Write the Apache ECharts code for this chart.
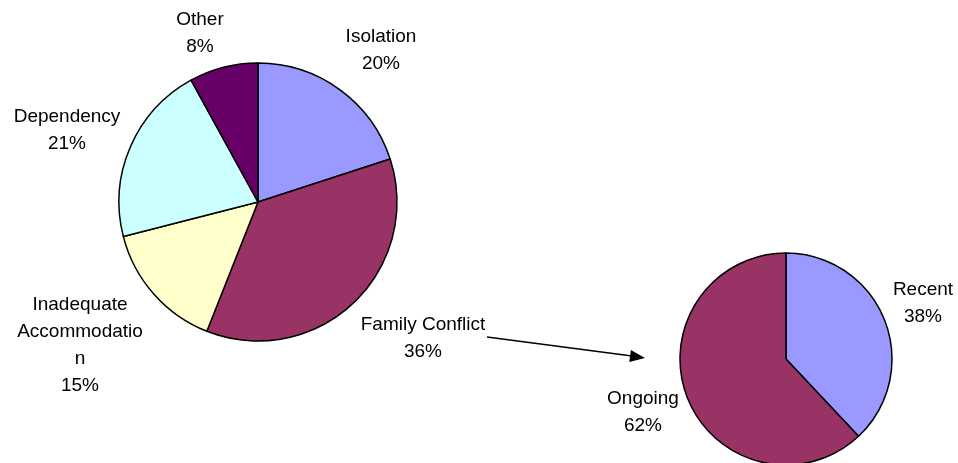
<!DOCTYPE html>
<html>
<head>
<meta charset="utf-8">
<script src="https://cdn.jsdelivr.net/npm/echarts@6/dist/echarts.min.js"></script>
<style>
  html, body { margin: 0; padding: 0; background: #fff; }
  #main { width: 958px; height: 463px; }
</style>
</head>
<body>
<div id="main"></div>
<script>
// main pie: reasons
const mainNames = ['Isolation', 'Family Conflict', 'Inadequate Accommodation', 'Dependency', 'Other'];
const mainValues = [20, 36, 15, 21, 8];
const mainColors = ['#9999FF', '#993366', '#FFFFCC', '#CCFFFF', '#660066'];

// breakdown of family conflict
const subNames = ['Recent', 'Ongoing'];
const subValues = [38, 62];
const subColors = ['#9999FF', '#993366'];

// label spots (px), same order as the names above
const mainLabelPos = [[381, 50], [423, 338], [80, 345], [67, 130], [200, 33]];
const subLabelPos = [[923, 303], [643, 412]];

const wrapName = {
  'Inadequate Accommodation': 'Inadequate\nAccommodatio\nn'
};

const chart = echarts.init(document.getElementById('main'));

function makeData(names, values, colors) {
  return names.map((n, i) => ({ name: n, value: values[i], itemStyle: { color: colors[i] } }));
}

const labelStyle = {
  show: true,
  position: 'outside',
  alignTo: 'none',
  overflow: 'none',
  width: 300,
  color: '#000',
  fontFamily: 'Liberation Sans, Arial, sans-serif',
  fontSize: 19,
  lineHeight: 27,
  align: 'center',
  formatter: (p) => (wrapName[p.name] || p.name) + '\n' + Math.round(p.percent) + '%'
};

const option = {
  backgroundColor: '#fff',
  animation: false,
  series: [
    {
      type: 'pie',
      center: [258, 202],
      radius: 139,
      startAngle: 90,
      clockwise: true,
      avoidLabelOverlap: false,
      itemStyle: { borderColor: '#000', borderWidth: 1.5 },
      label: labelStyle,
      labelLine: { show: false },
      labelLayout: (p) => ({
        x: mainLabelPos[p.dataIndex][0],
        y: mainLabelPos[p.dataIndex][1],
        align: 'center',
        verticalAlign: 'middle'
      }),
      emphasis: { disabled: true },
      data: makeData(mainNames, mainValues, mainColors)
    },
    {
      type: 'pie',
      center: [786, 359],
      radius: 106,
      startAngle: 90,
      clockwise: true,
      avoidLabelOverlap: false,
      itemStyle: { borderColor: '#000', borderWidth: 1.5 },
      label: labelStyle,
      labelLine: { show: false },
      labelLayout: (p) => ({
        x: subLabelPos[p.dataIndex][0],
        y: subLabelPos[p.dataIndex][1],
        align: 'center',
        verticalAlign: 'middle'
      }),
      emphasis: { disabled: true },
      data: makeData(subNames, subValues, subColors)
    }
  ],
  graphic: [
    {
      type: 'line',
      shape: { x1: 487, y1: 337, x2: 632, y2: 356 },
      style: { stroke: '#000', lineWidth: 1.5 }
    },
    {
      type: 'polygon',
      shape: { points: [[645, 358], [629.3, 362], [630.9, 350]] },
      style: { fill: '#000' }
    }
  ]
};

chart.setOption(option);
window.addEventListener('resize', () => chart.resize());
</script>
</body>
</html>
